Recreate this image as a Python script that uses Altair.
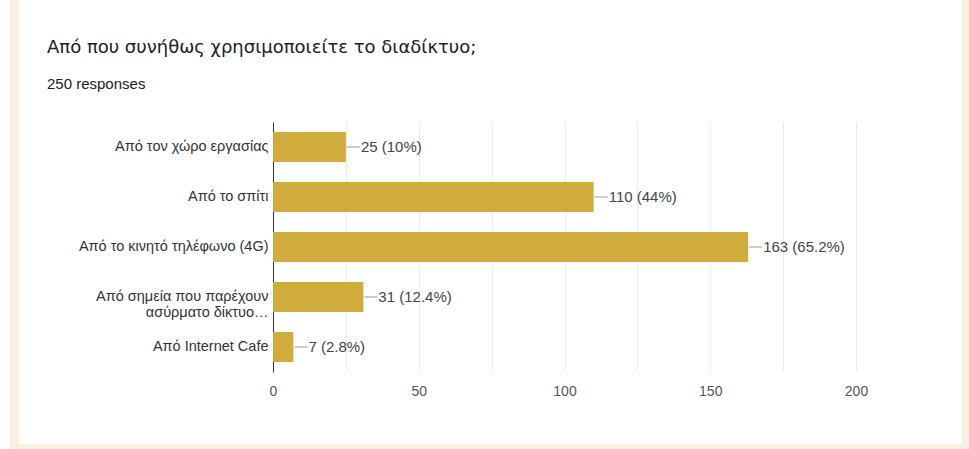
import altair as alt
import pandas as pd

categories = [
    "Από τον χώρο εργασίας",
    "Από το σπίτι",
    "Από το κινητό τηλέφωνο (4G)",
    "Από σημεία που παρέχουν|ασύρματο δίκτυο…",
    "Από Internet Cafe",
]
counts = [25, 110, 163, 31, 7]
percents = ["10%", "44%", "65.2%", "12.4%", "2.8%"]
x_ticks = [0, 25, 50, 75, 100, 125, 150, 175, 200]
title_text = "Από που συνήθως χρησιμοποιείτε το διαδίκτυο;"
subtitle_text = "250 responses"

df = pd.DataFrame({
    "cat": categories,
    "count": counts,
    "label": [f"{c} ({p})" for c, p in zip(counts, percents)],
})

BAR = "#cfac3b"
FONT = "Liberation Sans"

y_enc = alt.Y(
    "cat:N", sort=categories, title=None,
    scale=alt.Scale(paddingInner=0.4, paddingOuter=0.2),
    axis=alt.Axis(
        labelExpr="split(datum.label, '|')",
        labelFont=FONT, labelFontSize=14.5, labelColor="#333333",
        labelPadding=5, ticks=False, domainColor="#333333",
        labelLineHeight=16, labelLimit=300, grid=False,
    ),
)
x_enc = alt.X(
    "count:Q", title=None,
    scale=alt.Scale(domain=[0, 200], nice=False),
    axis=alt.Axis(
        values=x_ticks,
        labelExpr="datum.value % 50 == 0 ? datum.label : ''",
        labelFont=FONT, labelFontSize=14, labelColor="#555555",
        labelPadding=12, ticks=False, domain=False,
        gridColor="#ebebeb", labelFlush=False,
    ),
)

base = alt.Chart(df)
bars = base.mark_bar(color=BAR).encode(x=x_enc, y=y_enc)
conn = base.mark_rule(color="#999999", xOffset=1, x2Offset=14).encode(
    x="count:Q", x2="count:Q", y=alt.Y("cat:N", sort=categories)
)
txt = base.mark_text(align="left", dx=15, font=FONT, fontSize=15, color="#444444").encode(
    x="count:Q", y=alt.Y("cat:N", sort=categories), text="label:N"
)

one = pd.DataFrame({"t": [title_text], "s": [subtitle_text]})
one_c = alt.Chart(one)
title_m = one_c.mark_text(align="left", baseline="middle", font="DejaVu Sans",
                          fontSize=18, color="#202124").encode(
    x=alt.value(-226), y=alt.value(-74), text="t:N")
sub_m = one_c.mark_text(align="left", baseline="middle", font=FONT,
                        fontSize=15, color="#202124").encode(
    x=alt.value(-226), y=alt.value(-38), text="s:N")

BEIGE = "#f8f1df"
left_strip = one_c.mark_rect(color=BEIGE).encode(
    x=alt.value(-263), x2=alt.value(-254), y=alt.value(-122), y2=alt.value(327))
right_strip = one_c.mark_rect(color=BEIGE).encode(
    x=alt.value(689), x2=alt.value(696), y=alt.value(-122), y2=alt.value(327))
bottom_strip = one_c.mark_rect(color=BEIGE).encode(
    x=alt.value(-263), x2=alt.value(696), y=alt.value(322), y2=alt.value(327))

chart = alt.layer(
    bars, conn, txt, title_m, sub_m, left_strip, right_strip, bottom_strip
).properties(width=583, height=250).configure(
    autosize=alt.AutoSizeParams(type="none"),
    padding={"left": 273, "top": 122, "right": 113, "bottom": 77},
    background="#ffffff",
).configure_view(stroke=None)

chart.save("out.html", embed_options={"renderer": "svg", "actions": False})
